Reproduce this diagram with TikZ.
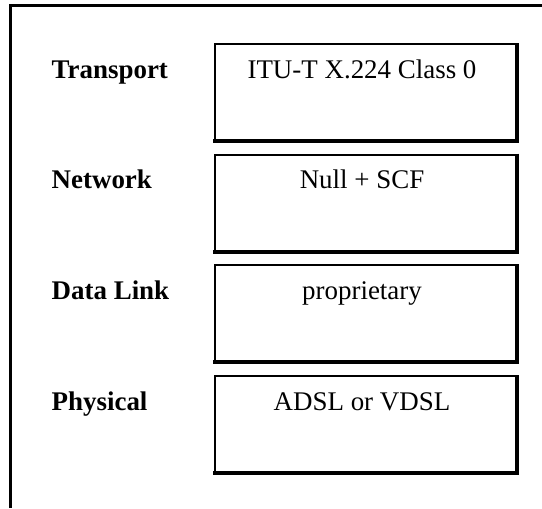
\documentclass[tikz,border=0pt]{standalone}
\usepackage{fontspec}
\setmainfont{Liberation Serif}

\begin{document}
\begin{tikzpicture}[x=0.75pt,y=-0.75pt,
    layerbox/.style={draw,line width=1.5pt,minimum width=226.1pt,minimum height=72pt,inner sep=0pt},
    shadow/.style={line width=3pt},
    proto/.style={anchor=base,font=\fontsize{20.2}{24}\selectfont},
    layername/.style={anchor=base west,font=\fontsize{20.2}{24}\selectfont\bfseries}]
    \useasboundingbox (0,0) rectangle (542,508);
    % frame, cut off at right and bottom
    \coordinate (FL) at (10.7,508);
    \coordinate (FC) at (10.7,5.3);
    \coordinate (FR) at (542,5.3);
    \draw[line width=1.9pt] (FL) -- (FC) -- (FR);

    \node[layername] (T) at (47,78) {Transport};
    \node[layername] (N) at (47,188.7) {Network};
    \node[layername] (D) at (47,299.4) {Data Link};
    \node[layername] (P) at (47,410.1) {Physical};

    \node[layerbox] (TB) at (365.25,92) {};
    \node[layerbox] (NB) at (365.25,202.7) {};
    \node[layerbox] (DB) at (365.25,313.4) {};
    \node[layerbox] (PB) at (365.25,424.1) {};

    \node[proto] (TT) at (362,78) {ITU-T X.224 Class 0};
    \node[proto] (NT) at (362,188.7) {Null + SCF};
    \node[proto] (DT) at (362,299.4) {proprietary};
    \node[proto] (PT) at (362,410.1) {ADSL or VDSL};

    \draw[shadow] (TB.north east) -- (TB.south east) -- ([xshift=-0.75pt]TB.south west);
    \draw[shadow] (NB.north east) -- (NB.south east) -- ([xshift=-0.75pt]NB.south west);
    \draw[shadow] (DB.north east) -- (DB.south east) -- ([xshift=-0.75pt]DB.south west);
    \draw[shadow] (PB.north east) -- (PB.south east) -- ([xshift=-0.75pt]PB.south west);
\end{tikzpicture}
\end{document}
